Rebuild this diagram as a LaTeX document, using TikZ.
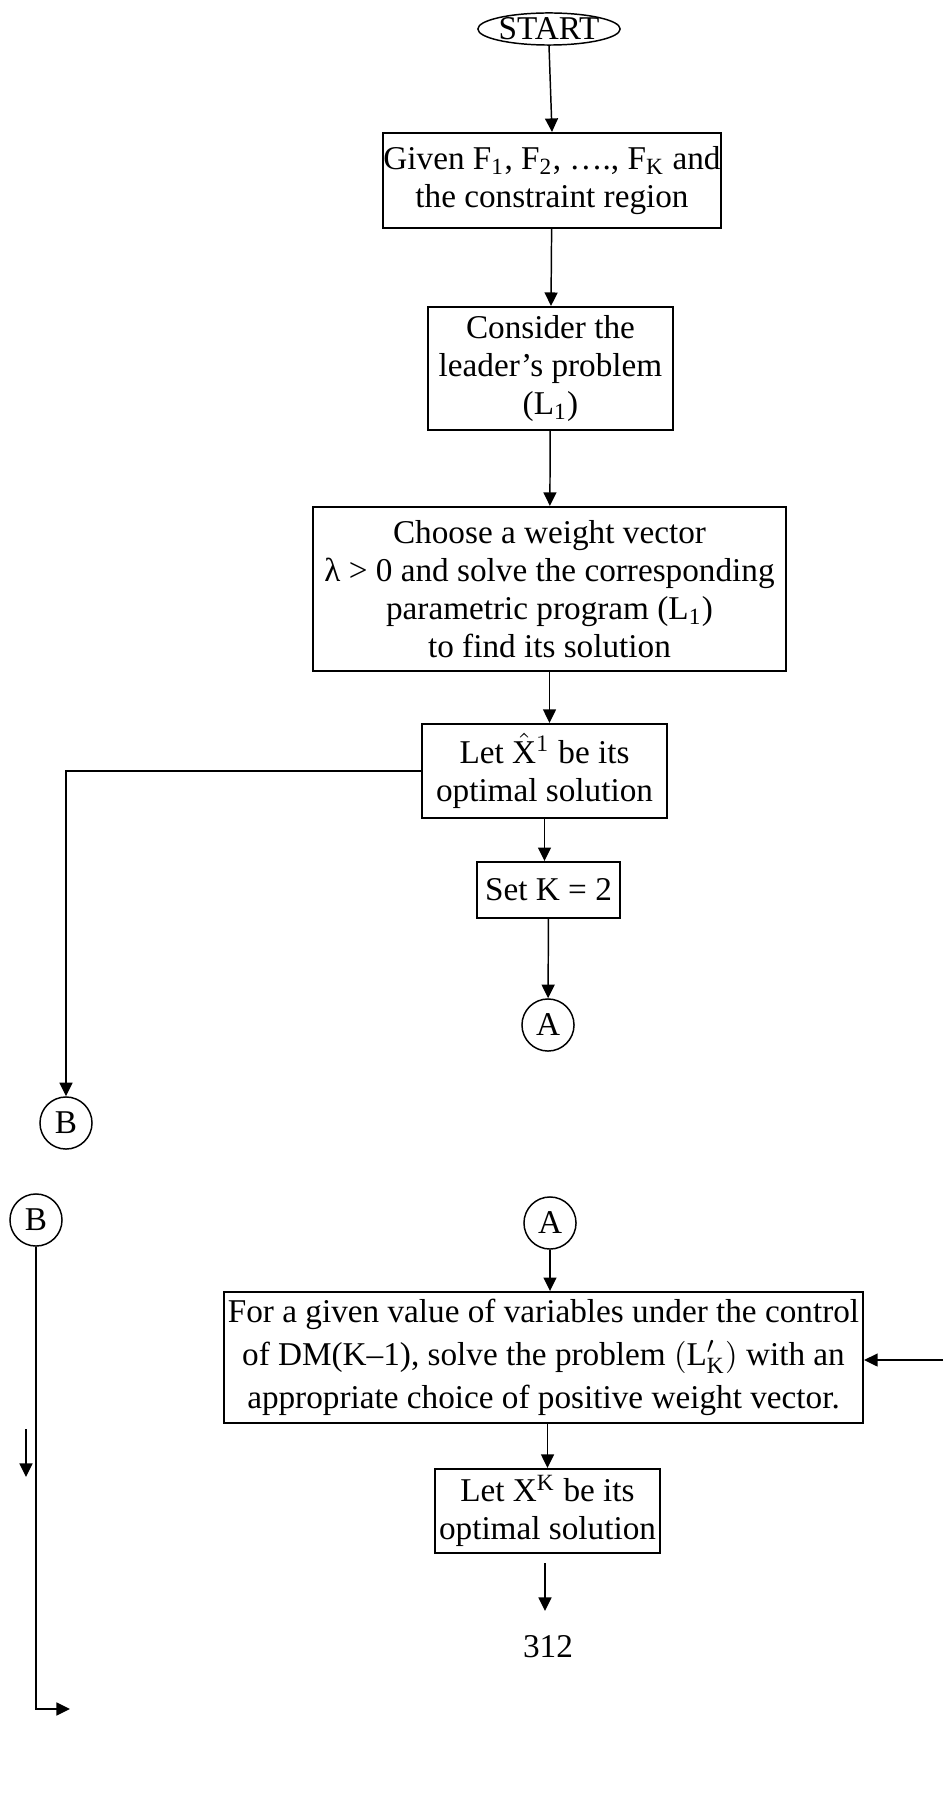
\documentclass[tikz,border=0pt]{standalone}
\usepackage{fontspec}
\setmainfont{Liberation Serif}
\usepackage{tikz}
\usetikzlibrary{shapes.geometric, positioning}
\usetikzlibrary{arrows.meta}
\tikzset{>={Triangle[length=4.6pt,width=4.4pt]}}
\tikzset{stepbox/.style={draw, line width=0.7pt, align=center, inner sep=0pt, font=\fontsize{11.3}{12.9}\selectfont}}
\tikzset{conn/.style={draw, circle, line width=0.5pt, minimum size=17.7pt, inner sep=0pt, font=\fontsize{11.3}{12.9}\selectfont}}
\tikzset{flow/.style={->, line width=0.5pt}}

\begin{document}
\begin{tikzpicture}[x=0.34pt, y=-0.34pt]
	\useasboundingbox (0,0) rectangle (943,1796);
	\node[draw, ellipse, line width=0.5pt, minimum width=45.6pt, minimum height=10.9pt, inner sep=0pt, font=\fontsize{11.3}{12.9}\selectfont] (start) at (549,29) {START};
	\node[stepbox, minimum width=112.9pt, minimum height=32.3pt] (given) at (552,180.5) {Given F\textsubscript{1}, F\textsubscript{2}, …., F\textsubscript{K} and\\the constraint region};
	\node[stepbox, minimum width=83.3pt, minimum height=41.8pt] (leader) at (550.5,368.5) {Consider the\\leader’s problem\\(L\textsubscript{1})};
	\node[stepbox, minimum width=160.8pt, minimum height=55.8pt] (weight) at (549.5,589) {Choose a weight vector\\λ > 0 and solve the corresponding\\parametric program (L\textsubscript{1})\\to find its solution};
	\node[stepbox, minimum width=83.3pt, minimum height=32pt] (letx) at (544.5,771) {Let $\hat{\mathrm{X}}^{1}$ be its\\optimal solution};
	\node[stepbox, minimum width=48.6pt, minimum height=19pt] (setk) at (548.5,890) {Set K = 2};
	\node[conn] (a1) at (548,1025) {A};
	\node[conn] (b1) at (66,1123) {B};
	\node[conn] (b2) at (36,1220) {B};
	\node[conn] (a2) at (550,1223) {A};
	\node[stepbox, minimum width=217.3pt, minimum height=44.5pt, font=\fontsize{11.3}{14.6}\selectfont] (solvek) at (543.5,1357.5) {For a given value of variables under the control\\of DM(K–1), solve the problem $(\mathrm{L}'_{\mathrm{K}})$ with an\\appropriate choice of positive weight vector.};
	\node[stepbox, minimum width=76.5pt, minimum height=28.6pt] (letxk) at (547.5,1511) {Let X\textsuperscript{K} be its\\optimal solution};
	\node[font=\fontsize{11.3}{12.9}\selectfont] (page) at (548,1647) {312};
	\coordinate (loopin) at (943,1360);
	\coordinate (bout) at (70,1709);
	\coordinate (dn1) at (26,1429);
	\coordinate (dn2) at (26,1477);
	\coordinate (out1) at (545,1563);
	\coordinate (out2) at (545,1611);
	\draw[flow] (start.south) -- (given.north);
	\draw[flow] (given) -- (leader);
	\draw[flow] (leader) -- (weight);
	\draw[flow] (weight.south) -- (weight.south |- letx.north);
	\draw[flow] (letx.south) -- (letx.south |- setk.north);
	\draw[flow] (setk) -- (a1);
	\draw[flow] (letx.west) -| (b1.north);
	\draw[flow] (b2.south) |- (bout);
	\draw[flow] (dn1) -- (dn2);
	\draw[flow] (a2) -- (a2 |- solvek.north);
	\draw[flow] (loopin) -- (solvek.east |- loopin);
	\draw[flow] (solvek.south -| letxk) -- (letxk.north);
	\draw[flow] (out1) -- (out2);
\end{tikzpicture}
\end{document}
